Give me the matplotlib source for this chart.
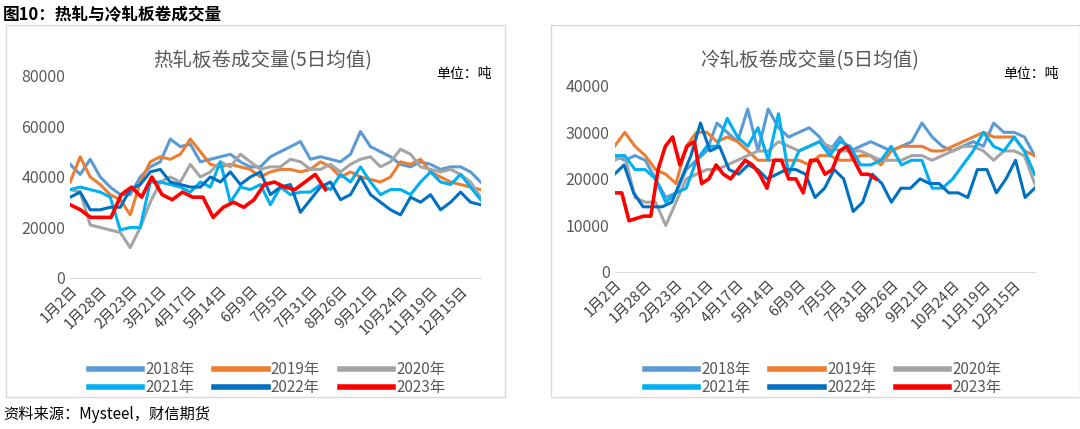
import numpy as np
import matplotlib
matplotlib.use("Agg")
import matplotlib.pyplot as plt
from matplotlib.patches import Rectangle
from matplotlib.lines import Line2D

plt.rcParams["font.family"] = ["Noto Sans CJK SC"]

tick_labels = ["1月2日","1月28日","2月23日","3月21日","4月17日","5月14日","6月9日",
               "7月5日","7月31日","8月26日","9月21日","10月24日","11月19日","12月15日"]
years = ["2018年","2019年","2020年","2021年","2022年","2023年"]
colors = ["#5B9BD5","#ED7D31","#A5A5A5","#00B0F0","#0070C0","#FF0000"]

hot_2018 = [45000,41000,47000,40000,36000,33000,33000,40000,44000,46000,55000,52000,53000,46000,47000,48000,49000,46000,44000,44000,48000,50000,52000,54000,47000,48000,47000,46000,49000,58000,52000,50000,48000,45000,44000,46000,45000,43000,44000,44000,42000,38000]
hot_2019 = [38000,48000,40000,37000,33000,31000,25000,38000,46000,48000,47000,49000,55000,50000,45000,44000,45000,44000,43000,40000,42000,43000,43000,42000,43000,46000,44000,40000,42000,40000,39000,38000,40000,46000,45000,47000,42000,40000,38000,37000,36000,35000]
hot_2020 = [35000,34000,21000,20000,19000,18000,12000,20000,30000,38000,40000,38000,45000,40000,42000,46000,44000,49000,46000,43000,44000,44000,47000,46000,43000,43000,45000,42000,45000,47000,48000,44000,46000,51000,49000,44000,43000,42000,43000,41000,38000,32000]
hot_2021 = [35000,36000,35000,34000,32000,19000,20000,20000,38000,38000,37000,36000,34000,38000,36000,46000,30000,36000,35000,37000,29000,36000,33000,34000,34000,37000,35000,41000,38000,44000,38000,33000,35000,35000,33000,38000,42000,38000,37000,41000,36000,31000]
hot_2022 = [32000,34000,27000,27000,28000,28000,35000,37000,42000,43000,38000,37000,36000,36000,40000,38000,42000,37000,40000,42000,33000,36000,37000,26000,31000,36000,38000,31000,33000,40000,33000,30000,27000,25000,32000,30000,33000,27000,30000,34000,30000,29000]
hot_2023 = [29000,27000,24000,24000,24000,33000,36000,32000,40000,33000,31000,34000,32000,32000,24000,28000,30000,28000,31000,37000,38000,36000,35000,38000,41000,35000]

cold_2018 = [25000,24000,25000,24000,20000,16000,17000,22000,24000,26000,32000,30000,28000,35000,26000,35000,31000,29000,30000,31000,29000,26000,29000,26000,27000,28000,27000,26000,27000,28000,32000,29000,27000,26000,27000,28000,27000,32000,30000,30000,29000,25000]
cold_2019 = [27000,30000,27000,25000,22000,21000,19000,27000,30000,30000,28000,29000,28000,26000,24000,24000,24000,24000,24000,23000,25000,25000,24000,24000,25000,25000,23000,26000,27000,27000,27000,26000,26000,27000,28000,29000,30000,29000,29000,29000,26000,25000]
cold_2020 = [24000,25000,16000,15000,15000,10000,15000,20000,21000,22000,22000,23000,24000,25000,26000,26000,28000,27000,26000,27000,28000,27000,26000,26000,26000,25000,24000,24000,24000,25000,25000,24000,25000,26000,27000,27000,26000,24000,26000,26000,25000,19000]
cold_2021 = [25000,25000,22000,22000,20000,15000,17000,18000,24000,27000,27000,33000,29000,27000,31000,24000,34000,21000,26000,27000,28000,25000,28000,27000,23000,23000,24000,27000,23000,24000,24000,18000,18000,20000,23000,26000,30000,27000,26000,29000,26000,21000]
cold_2022 = [21000,23000,17000,14000,14000,14000,15000,20000,25000,32000,26000,27000,22000,21000,23000,22000,20000,21000,22000,22000,21000,16000,18000,22000,20000,13000,15000,21000,19000,15000,18000,18000,20000,19000,19000,17000,17000,16000,22000,22000,17000,20000,24000,16000,18000]
cold_2023 = [17000,17000,11000,11500,12000,12000,22000,27000,29000,23000,27000,28000,19000,20000,23000,21000,20000,22000,24000,23000,21000,18000,24000,24000,20000,20000,17000,24000,24000,21000,22000,26000,27000,24000,21000,21000,20000]

END_DAY = 246
TICK_STEP = 18
END_2023 = 153

fig = plt.figure(figsize=(10.8, 4.29), dpi=100)
fig.text(0.003, 0.965, "图10：热轧与冷轧板卷成交量", fontsize=12, fontweight="bold", va="center")
fig.text(0.003, 0.035, "资料来源：Mysteel，财信期货", fontsize=11, style="italic", va="center")

order = [0, 3, 1, 4, 2, 5]

def panel(rect, frame, series, ymax, ystep, title, title_x, unit_x, leg_x):
    fig.patches.append(Rectangle((frame[0], frame[1]), frame[2], frame[3], transform=fig.transFigure,
                                 fill=False, edgecolor="#D9D9D9", lw=1))
    ax = fig.add_axes(rect)
    for i, (vals, c) in enumerate(zip(series, colors)):
        end = END_2023 if i == 5 else END_DAY
        x = np.linspace(0, end, len(vals))
        ax.plot(x, vals, color=c, lw=2.6 if i == 5 else 2.2, zorder=3 + i)
    ax.set_xlim(0, END_DAY)
    ax.set_ylim(0, ymax)
    ax.set_yticks(np.arange(0, ymax + 1, ystep))
    ax.set_xticks(np.arange(len(tick_labels)) * TICK_STEP)
    ax.set_xticklabels(tick_labels, rotation=45, ha="right", rotation_mode="anchor", fontsize=10.5, color="#404040")
    ax.tick_params(axis="y", labelsize=11.5, labelcolor="#595959", length=0)
    ax.tick_params(axis="x", length=0, pad=4)
    for s in ["top", "right", "left"]:
        ax.spines[s].set_visible(False)
    ax.spines["bottom"].set_color("#D9D9D9")
    fig.text(title_x, 0.858, title, fontsize=14, color="#595959", ha="center", va="center")
    fig.text(unit_x, 0.828, "单位：吨", ha="right", va="center", fontsize=10)
    handles = [Line2D([0], [0], color=colors[k], lw=4) for k in order]
    labels = [years[k] for k in order]
    fig.legend(handles, labels, ncol=3, loc="center left", bbox_to_anchor=(leg_x, 0.117),
               bbox_transform=fig.transFigure,
               frameon=False, handlelength=3.5, fontsize=11, labelspacing=0.05, columnspacing=1.3,
               handletextpad=0.2, labelcolor="#595959", borderpad=0)
    return ax

panel([0.065, 0.352, 0.38, 0.471], [0.006, 0.075, 0.462, 0.867],
      [hot_2018, hot_2019, hot_2020, hot_2021, hot_2022, hot_2023], 80000, 20000,
      "热轧板卷成交量(5日均值)", 0.243, 0.455, 0.075)
panel([0.569, 0.366, 0.389, 0.434], [0.51, 0.075, 0.49, 0.867],
      [cold_2018, cold_2019, cold_2020, cold_2021, cold_2022, cold_2023], 40000, 10000,
      "冷轧板卷成交量(5日均值)", 0.75, 0.98, 0.59)

fig.savefig("out.png", dpi=100)
